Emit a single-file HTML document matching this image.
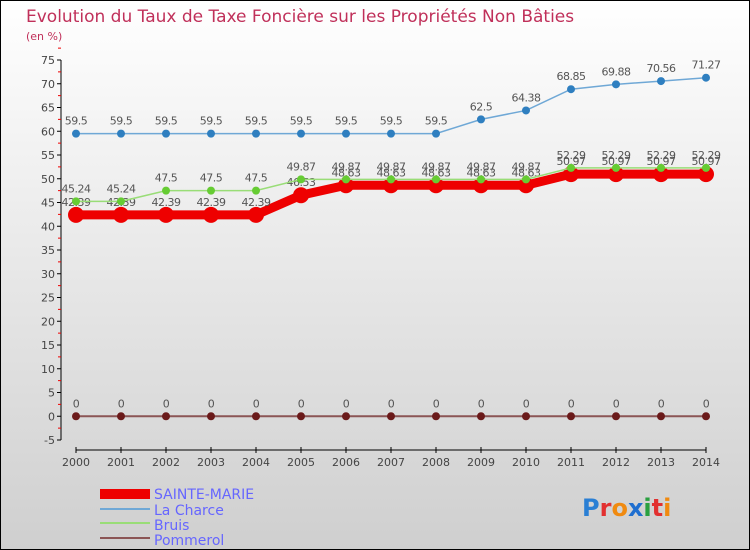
<!DOCTYPE html>
<html><head><meta charset="utf-8"><style>
body{margin:0;padding:0}
#wrap{width:750px;height:550px;position:relative;overflow:hidden}
svg text{font-family:"DejaVu Sans","Liberation Sans",sans-serif}
</style></head><body>
<div id="wrap">
<svg id="chart" width="750" height="550" xmlns="http://www.w3.org/2000/svg">
<defs><linearGradient id="bg" x1="0" y1="0" x2="0" y2="1"><stop offset="0" stop-color="#ffffff"/><stop offset="1" stop-color="#cfcfcf"/></linearGradient></defs>
<rect x="0.5" y="0.5" width="749" height="549" fill="url(#bg)" stroke="#000"/>
<text x="26" y="22" font-size="17" fill="#c0305a">Evolution du Taux de Taxe Foncière sur les Propriétés Non Bâties</text>
<text x="26" y="40" font-size="11" fill="#c0305a">(en %)</text>
<g id="axes"></g><g id="series"></g>
<g>
<rect x="100" y="489" width="50" height="10" fill="#ee0000"/>
<text x="154" y="499" font-size="14" fill="#6666ff">SAINTE-MARIE</text>
<line x1="100" y1="509" x2="150" y2="509" stroke="#6fa8d6" stroke-width="2"/>
<text x="154" y="515" font-size="14" fill="#6666ff">La Charce</text>
<line x1="100" y1="523" x2="150" y2="523" stroke="#99dd77" stroke-width="2"/>
<text x="154" y="530" font-size="14" fill="#6666ff">Bruis</text>
<line x1="100" y1="538" x2="150" y2="538" stroke="#8b5555" stroke-width="2"/>
<text x="154" y="545" font-size="14" fill="#6666ff">Pommerol</text>
</g>
<text x="582" y="516" font-size="24" font-weight="bold"><tspan fill="#2a7fd4">P</tspan><tspan fill="#e23030">r</tspan><tspan fill="#f08a10">o</tspan><tspan fill="#1f6fd0">x</tspan><tspan fill="#2aa040">i</tspan><tspan fill="#e23030">t</tspan><tspan fill="#f08a10">i</tspan></text>
</svg></div>
<script>
const years=[2000,2001,2002,2003,2004,2005,2006,2007,2008,2009,2010,2011,2012,2013,2014];
const yTicks=[-5,0,5,10,15,20,25,30,35,40,45,50,55,60,65,70,75];
const sainteMarie=[42.39,42.39,42.39,42.39,42.39,46.53,48.63,48.63,48.63,48.63,48.63,50.97,50.97,50.97,50.97];
const laCharce=[59.5,59.5,59.5,59.5,59.5,59.5,59.5,59.5,59.5,62.5,64.38,68.85,69.88,70.56,71.27];
const bruis=[45.24,45.24,47.5,47.5,47.5,49.87,49.87,49.87,49.87,49.87,49.87,52.29,52.29,52.29,52.29];
const pommerol=[0,0,0,0,0,0,0,0,0,0,0,0,0,0,0];
const NS="http://www.w3.org/2000/svg";
const xs=i=>76+i*45;
const ys=v=>416.25-v*4.75;
function mk(t,a,p){const e=document.createElementNS(NS,t);for(const k in a)e.setAttribute(k,a[k]);p.appendChild(e);return e;}
const ax=document.getElementById('axes');
const yl=mk('line',{x1:61,y1:ys(75),x2:61,y2:ys(-5),stroke:'#000'},ax);


yTicks.forEach(v=>{
 mk('line',{x1:57,x2:61,y1:ys(v),y2:ys(v),stroke:'#000'},ax);
 mk('line',{x1:58,x2:61,y1:ys(v+2.5),y2:ys(v+2.5),stroke:'#e00'},ax);
 const t=mk('text',{x:55,y:ys(v)+4,'font-size':11,fill:'#444','text-anchor':'end'},ax);t.textContent=v;
 
 
});
const xl=mk('line',{x1:xs(0),x2:xs(14),y1:450,y2:450,stroke:'#000'},ax);


years.forEach((y,i)=>{
 mk('line',{x1:xs(i),x2:xs(i),y1:447,y2:453,stroke:'#000'},ax);
 const t=mk('text',{x:xs(i),y:466,'font-size':11,fill:'#444','text-anchor':'middle'},ax);t.textContent=y;
 
 
});
const sg=document.getElementById('series');
function series(name,vals,color,w,r,dot){
 const g=mk('g',{},sg);
 
 
 mk('polyline',{points:vals.map((v,i)=>xs(i)+','+ys(v)).join(' '),fill:'none',stroke:color,'stroke-width':w},g);
 vals.forEach((v,i)=>{
  const c=mk('circle',{cx:xs(i),cy:ys(v),r:r,fill:dot},g);
  
  
  const t=mk('text',{x:xs(i),y:ys(v)-9,'font-size':11,fill:'#555','text-anchor':'middle','letter-spacing':'-0.5'},g);t.textContent=String(v);
  
  
 });
}
series('pommerol',pommerol,'#8b5555',2,4,'#6b1a1a');
series('la-charce',laCharce,'#6fa8d6',1.5,4,'#2f7fc0');
series('sainte-marie',sainteMarie,'#ee0000',9,8,'#ee0000');
series('bruis',bruis,'#99dd77',1.5,4,'#66cc33');
</script>
</body></html>
